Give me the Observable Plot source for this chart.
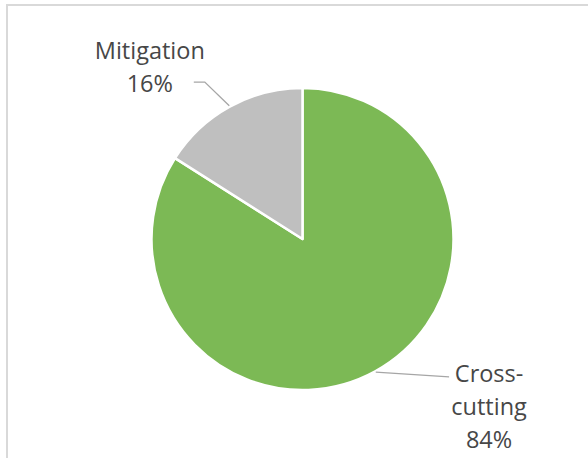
<!DOCTYPE html>
<html><head><meta charset="utf-8">
<script src="https://cdn.jsdelivr.net/npm/d3@7"></script>
<script src="https://cdn.jsdelivr.net/npm/@observablehq/plot@0.6"></script>
<style>
html,body{margin:0;padding:0;background:#fff;width:588px;height:458px;overflow:hidden;}
#chart{position:absolute;left:0;top:0;}
#frame{position:absolute;left:6px;top:4px;width:700px;height:700px;border:2px solid #D9D9D9;box-sizing:border-box;pointer-events:none;}
</style></head><body>
<div id="chart"></div><div id="frame"></div>
<script>
// ---- data ----
const categories = ["Cross-cutting", "Mitigation"];
const shares = [84, 16];
const percentLabels = ["84%", "16%"];
const nameLines = [["Cross-", "cutting"], ["Mitigation"]];
const sliceColors = ["#7CB955", "#BFBFBF"];

// ---- layout (not data) ----
const W = 588, H = 458;
const cx = 302.5, cy = 239, R = 151;
const labelAngle = [35.4, 88.8];     // in share units (0..100, clockwise from top)
const labelRadius = [235, 236];      // px from centre, to first baseline, text centre
const kneeOffset = [[-40, -5], [55, 23]];
const tailLength = [0, -11];
const lineGap = 33;

let acc = 0;
const pieData = categories.map((c, i) => {
  const d = {category: c, start: acc, end: acc + shares[i], i};
  acc += shares[i];
  return d;
});

const chart = Plot.plot({
  width: W, height: H,
  margin: 0,
  style: {background: "transparent"},
  x: {domain: [0, 100], range: [0, 2 * Math.PI], axis: null},
  color: {domain: categories, range: sliceColors},
  marks: [
    Plot.barX(pieData, {
      x1: "start", x2: "end", fill: "category",
      render(index, scales, values) {
        const g = d3.create("svg:g");
        const arc = d3.arc().innerRadius(0).outerRadius(R);
        for (const i of index) {
          g.append("path")
            .attr("transform", `translate(${cx},${cy})`)
            .attr("d", arc({startAngle: values.x1[i], endAngle: values.x2[i]}))
            .attr("fill", values.fill[i])
            .attr("stroke", "#fff").attr("stroke-width", 2.5).attr("stroke-linejoin", "round");
        }
        for (const i of index) {
          const mid = (values.x1[i] + values.x2[i]) / 2;
          const rimR = R + 1;
          const p0 = [cx + rimR * Math.sin(mid), cy - rimR * Math.cos(mid)];
          const la = scales.x(labelAngle[i]);
          const ax = cx + labelRadius[i] * Math.sin(la);
          const ay = cy - labelRadius[i] * Math.cos(la);
          const k = [ax + kneeOffset[i][0], ay + kneeOffset[i][1]];
          const pts = [p0, k];
          if (tailLength[i]) pts.push([k[0] + tailLength[i], k[1]]);
          g.append("path").attr("d", d3.line()(pts))
            .attr("fill", "none").attr("stroke", "#A6A6A6").attr("stroke-width", 1.3);
          const lines = [...nameLines[i], percentLabels[i]];
          const t = g.append("text")
            .attr("text-anchor", "middle")
            .attr("font-family", "'Open Sans', sans-serif")
            .attr("font-size", 23.5)
            .attr("fill", "#474747");
          lines.forEach((s, j) => {
            t.append("tspan").attr("x", ax).attr("y", ay + j * lineGap).text(s);
          });
        }
        return g.node();
      }
    })
  ]
});
document.getElementById("chart").append(chart);
</script>
</body></html>
